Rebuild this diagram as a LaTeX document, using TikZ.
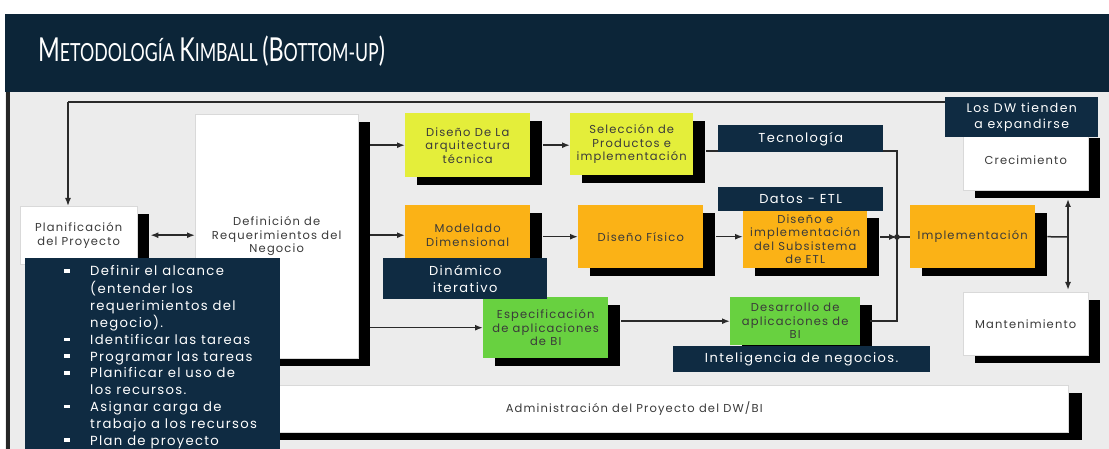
\documentclass[tikz,border=0pt]{standalone}
\usepackage{fontspec}
\setmainfont{Poppins}
\newfontfamily\titlefont{Lato}
\newfontfamily\bxf[LetterSpace=10]{Poppins}
\newfontfamily\lblf[LetterSpace=11]{Poppins}
\newfontfamily\lstf[LetterSpace=10]{Poppins}
\usetikzlibrary{arrows.meta,shadows}
\definecolor{navy}{HTML}{0C2538}
\definecolor{lblnavy}{HTML}{0F2B42}
\definecolor{bggray}{HTML}{ECECEC}
\definecolor{ylw}{HTML}{E4EE3A}
\definecolor{org}{HTML}{FBB216}
\definecolor{grn}{HTML}{68D140}
\definecolor{txtgray}{HTML}{3A3A3A}
\definecolor{lngray}{HTML}{2A2A2A}
\tikzset{
  bx/.style={anchor=north west, inner sep=1pt, align=center, text=txtgray,
    font=\bxf\fontsize{11.5}{13.5}\selectfont,
    drop shadow={shadow xshift=12pt, shadow yshift=-8pt, fill=black, opacity=1}},
  wbx/.style={bx, fill=white, draw=white!85!black, line width=0.4pt},
  ybx/.style={bx, fill=ylw},
  obx/.style={bx, fill=org},
  gbx/.style={bx, fill=grn},
  lbl/.style={anchor=north west, fill=lblnavy, text=white, align=center, inner sep=0pt,
    font=\lblf\fontsize{13}{17}\selectfont},
  ln/.style={draw=lngray, line width=1.5pt},
  arr/.style={ln, -{Latex[length=8pt,width=6pt]}},
  arrtwo/.style={ln, {Latex[length=8pt,width=6pt]}-{Latex[length=8pt,width=6pt]}},
}
\newcommand{\bulletmark}{\rule[3.2pt]{6pt}{3.5pt}}
\newcommand{\bigc}{\fontsize{33}{33}\selectfont}
\newcommand{\smallc}{\fontsize{25}{25}\selectfont}
\begin{document}
\begin{tikzpicture}[x=1pt,y=-1pt]
\useasboundingbox (0,0) rectangle (1109,449);
% header band and working area
\fill[white] (0,0) rectangle (1109,449);
\fill[navy] (5,14) rectangle (1109,92);
\fill[bggray] (5,92) rectangle (1109,449);
\fill[black!85] (6,92) rectangle (10,449);
\node[anchor=west, text=white, font=\titlefont, inner sep=0pt] (title) at (38,51)
  {\scalebox{0.71}[1]{\bigc M\smallc ETODOLOGÍA \bigc K\smallc IMBALL \bigc (B\smallc OTTOM-UP\bigc )}};

% process boxes
\node[wbx, minimum width=117, minimum height=58] (plan) at (20,206) {Planificación\\del Proyecto};
\node[wbx, minimum width=163, minimum height=244] (defn) at (195,114) {Definición de\\Requerimientos del\\Negocio};
\node[ybx, minimum width=125, minimum height=64] (arq) at (405,113) {Diseño De La\\arquitectura\\técnica};
\node[ybx, minimum width=123, minimum height=62] (sel) at (570,113) {Selección de\\Productos e\\implementación};
\node[obx, minimum width=125, minimum height=60] (mod) at (405,205) {Modelado\\Dimensional};
\node[obx, minimum width=125, minimum height=63] (fis) at (578,205) {Diseño Físico};
\node[obx, minimum width=124, minimum height=58] (etl) at (743,210) {Diseño e\\implementación\\del Subsistema\\de ETL};
\node[obx, minimum width=125, minimum height=63] (impl) at (910,205) {Implementación};
\node[wbx, minimum width=125, minimum height=60] (crec) at (963,130) {Crecimiento};
\node[wbx, minimum width=125, minimum height=63] (mant) at (963,292) {Mantenimiento};
\node[gbx, minimum width=125, minimum height=61] (esp) at (483,297) {Especificación\\de aplicaciones\\de BI};
\node[gbx, minimum width=130, minimum height=48] (des) at (730,297) {Desarrollo de\\aplicaciones de\\BI};
\node[wbx, minimum width=868, minimum height=47, drop shadow={shadow xshift=14pt, shadow yshift=-8pt, fill=black, opacity=1}] (adm) at (200,385) {Administración del Proyecto del DW/BI};

% connectors
\coordinate (jn) at (897,237);
\coordinate (vt) at (1068,237);
\coordinate (vtop) at (1068,199);
\coordinate (vbot) at (1068,290);
\draw[arrtwo] ([xshift=13pt]plan.east) -- (plan.east -| defn.west);
\draw[arr] ([xshift=12pt]defn.east |- arq.west) -- (arq.west);
\draw[arr] ([xshift=12pt]defn.east |- mod.west) -- (mod.west);
\draw[arr] ([xshift=12pt]defn.east |- esp.west) -- (esp.west);
\draw[arr] ([xshift=13pt]arq.east) -- (arq.east -| sel.west);
\draw[arr] ([xshift=13pt]mod.east |- fis.west) -- (fis.west);
\draw[arr] ([xshift=13pt]fis.east) -- (fis.east -| etl.west);
\draw[arr] ([xshift=13pt]esp.east |- des.west) -- (des.west);
\draw[ln] ([xshift=13pt, yshift=-7pt]sel.east) -| (jn);
\draw[ln] (jn) |- ([xshift=10pt]des.east);
\draw[arr] ([xshift=13pt]etl.east |- jn) -- (jn);
\draw[ln] (jn) -- (jn -| impl.west);
\fill[lngray] (jn) circle (2.8pt);
\draw[ln] ([xshift=12pt]impl.east) -- (vt);
\draw[arrtwo] (vtop) -- (vbot);
\coordinate (fbr) at (945,102);
\coordinate (fbl) at (68,102);
\draw[ln] (fbr) -- (fbl);
\draw[arr] (fbl) -- (fbl |- plan.north);

% dark captions
\node[lbl, minimum width=165, minimum height=27] (tec) at (718,125) {Tecnología};
\node[lbl, minimum width=165, minimum height=24] (dat) at (718,187) {Datos - ETL};
\node[lbl, minimum width=164, minimum height=41] (din) at (383,258) {Dinámico\\iterativo};
\node[lbl, minimum width=257, minimum height=26] (intel) at (673,346) {Inteligencia de negocios.};
\node[lbl, minimum width=153, minimum height=40, font=\lblf\fontsize{12.5}{16}\selectfont] (losdw) at (945,97) {Los DW tienden\\a expandirse};

% task list
\fill[lblnavy] (25,258) rectangle (280,449);
\node[anchor=north west, inner sep=0pt, text=white, font=\lstf\fontsize{13.2}{16.8}\selectfont] (tasks) at (64,264) {%
\begin{tabular}{@{}p{26pt}@{}l@{}}
\bulletmark & Definir el alcance\\
 & (entender los\\
 & requerimientos del\\
 & negocio).\\
\bulletmark & Identificar las tareas\\
\bulletmark & Programar las tareas\\
\bulletmark & Planificar el uso de\\
 & los recursos.\\
\bulletmark & Asignar carga de\\
 & trabajo a los recursos\\
\bulletmark & Plan de proyecto
\end{tabular}};
\end{tikzpicture}
\end{document}
